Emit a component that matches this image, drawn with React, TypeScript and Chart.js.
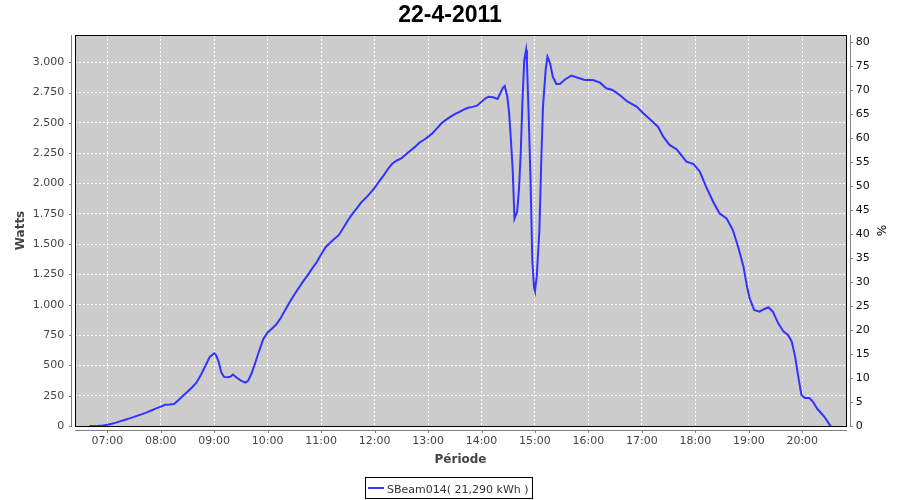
import React, { useEffect, useRef } from "react";
import { Chart, registerables } from "chart.js";

Chart.register(...registerables);

const TITLE = "22-4-2011";
const SERIES_LABEL = "SBeam014( 21,290 kWh )";
const Y_LABEL = "Watts";
const Y2_LABEL = "%";
const X_LABEL = "Période";

// time of day (HH:MM)
const times = [
  "06:40", "06:45", "06:50", "06:55", "07:00", "07:05", "07:10", "07:15", "07:20", "07:25",
  "07:30", "07:35", "07:40", "07:45", "07:50", "07:55", "08:00", "08:05", "08:10", "08:15",
  "08:20", "08:25", "08:30", "08:35", "08:40", "08:45", "08:50", "08:55", "09:00", "09:02",
  "09:05", "09:08", "09:11", "09:15", "09:18", "09:21", "09:25", "09:30", "09:35", "09:38",
  "09:42", "09:46", "09:50", "09:55", "10:00", "10:05", "10:10", "10:15", "10:20", "10:25",
  "10:30", "10:35", "10:40", "10:45", "10:50", "10:55", "11:00", "11:05", "11:10", "11:15",
  "11:20", "11:25", "11:30", "11:35", "11:40", "11:45", "11:50", "11:55", "12:00", "12:05",
  "12:10", "12:15", "12:20", "12:25", "12:30", "12:35", "12:40", "12:45", "12:50", "12:55",
  "13:00", "13:05", "13:10", "13:15", "13:20", "13:25", "13:30", "13:35", "13:40", "13:45",
  "13:50", "13:55", "14:00", "14:05", "14:08", "14:13", "14:18", "14:21", "14:24", "14:26",
  "14:29", "14:31", "14:33", "14:35", "14:37", "14:40", "14:42", "14:44", "14:46", "14:48",
  "14:50", "14:51", "14:53", "14:55", "14:57", "14:59", "15:00", "15:02", "15:05", "15:07",
  "15:09", "15:12", "15:14", "15:17", "15:20", "15:24", "15:28", "15:34", "15:41", "15:48",
  "15:56", "16:05", "16:13", "16:20", "16:27", "16:35", "16:44", "16:54", "17:01", "17:09",
  "17:18", "17:24", "17:31", "17:39", "17:50", "17:58", "18:05", "18:12", "18:20", "18:27",
  "18:35", "18:42", "18:48", "18:54", "18:58", "19:01", "19:06", "19:12", "19:17", "19:22",
  "19:27", "19:33", "19:39", "19:44", "19:48", "19:52", "19:55", "19:59", "20:03", "20:08",
  "20:12", "20:17", "20:23", "20:26", "20:31", "20:32",
];

// power in watts
const watts = [
  0, 0, 2, 5, 11, 18, 28, 40, 52, 63,
  75, 88, 100, 115, 130, 145, 160, 175, 178, 182,
  215, 250, 283, 318, 357, 420, 495, 570, 600, 585,
  530, 440, 405, 403, 406, 424, 400, 375, 358, 372,
  435, 520, 610, 715, 772, 805, 840, 895, 960, 1025,
  1085, 1140, 1195, 1245, 1300, 1350, 1415, 1475, 1512, 1545,
  1576, 1635, 1695, 1750, 1795, 1845, 1880, 1920, 1965, 2015,
  2065, 2120, 2165, 2190, 2208, 2240, 2270, 2300, 2335, 2359,
  2385, 2415, 2455, 2497, 2525, 2550, 2572, 2590, 2610, 2625,
  2632, 2642, 2675, 2705, 2716, 2711, 2697, 2744, 2790, 2805,
  2716, 2580, 2359, 2112, 1710, 1768, 1947, 2250, 2689, 3019,
  3102, 2992, 2551, 2029, 1369, 1140, 1116, 1232, 1617, 2167,
  2634, 2937, 3046, 2992, 2881, 2821, 2821, 2860, 2890, 2873,
  2854, 2854, 2832, 2786, 2772, 2730, 2675, 2634, 2584, 2530,
  2469, 2386, 2318, 2282, 2180, 2161, 2098, 1974, 1850, 1754,
  1713, 1617, 1479, 1314, 1149, 1053, 957, 943, 963, 979,
  943, 847, 778, 751, 700, 572, 430, 256, 230, 230,
  200, 140, 91, 63, 8, 0,
];

// tick values
const hourTicks = [7, 8, 9, 10, 11, 12, 13, 14, 15, 16, 17, 18, 19, 20];
const wattTicks = [0, 250, 500, 750, 1000, 1250, 1500, 1750, 2000, 2250, 2500, 2750, 3000];
const percentTicks = [0, 5, 10, 15, 20, 25, 30, 35, 40, 45, 50, 55, 60, 65, 70, 75, 80];

// axis bounds
const X_MIN = 6.396; // hours
const X_MAX = 20.818;
const Y_MAX = 3225;
const Y2_MAX = 81.4;

const toHours = (t: string) => {
  const [h, m] = t.split(":").map(Number);
  return h + m / 60;
};
const thousands = (v: number) =>
  String(Math.round(v)).replace(/\B(?=(\d{3})+(?!\d))/g, ".");
const hhmm = (v: number) => String(Math.round(v)).padStart(2, "0") + ":00";
const fixedTicks = (vals: number[]) => (s: any) => {
  s.ticks = vals.map((value) => ({ value }));
};

const TICK_FONT = { family: "DejaVu Sans", size: 11 };
const AXIS_GRAY = "#808080";

const jfreeFrame = {
  id: "jfreeFrame",
  beforeDraw(chart: any) {
    const { ctx, chartArea: a } = chart;
    ctx.save();
    ctx.fillStyle = "#ffffff";
    ctx.fillRect(0, 0, chart.width, chart.height);
    ctx.fillStyle = "#cccccc";
    ctx.fillRect(a.left, a.top, a.right - a.left, a.bottom - a.top);
    ctx.restore();
  },
  afterDatasetsDraw(chart: any) {
    const { ctx, chartArea: a, scales } = chart;
    const L = Math.round(a.left), R = Math.round(a.right);
    const T = Math.round(a.top), B = Math.round(a.bottom);
    ctx.save();
    ctx.strokeStyle = "#000";
    ctx.lineWidth = 1;
    ctx.strokeRect(L + 0.5, T + 0.5, R - L, B - T);
    ctx.strokeStyle = AXIS_GRAY;
    ctx.beginPath();
    ctx.moveTo(L - 3.5, T);
    ctx.lineTo(L - 3.5, B + 1);
    ctx.moveTo(R + 4.5, T);
    ctx.lineTo(R + 4.5, B + 1);
    ctx.moveTo(L, B + 4.5);
    ctx.lineTo(R + 1, B + 4.5);
    for (const t of scales.y.ticks) {
      const y = Math.round(scales.y.getPixelForValue(t.value)) + 0.5;
      ctx.moveTo(L - 6, y);
      ctx.lineTo(L - 3.5, y);
    }
    for (const t of scales.y2.ticks) {
      const y = Math.round(scales.y2.getPixelForValue(t.value)) + 0.5;
      ctx.moveTo(R + 4.5, y);
      ctx.lineTo(R + 7, y);
    }
    for (const t of scales.x.ticks) {
      const x = Math.round(scales.x.getPixelForValue(t.value)) + 0.5;
      ctx.moveTo(x, B + 4.5);
      ctx.lineTo(x, B + 7);
    }
    ctx.stroke();
    ctx.restore();
  },
  afterDraw(chart: any) {
    const { ctx } = chart;
    const ds = chart.data.datasets[0];
    ctx.save();
    ctx.font = "11px 'DejaVu Sans'";
    const tw = ctx.measureText(ds.label).width;
    const left = 365;
    const textX = left + 22;
    const right = textX + tw + 3;
    ctx.strokeStyle = "#000";
    ctx.lineWidth = 1;
    ctx.strokeRect(left + 0.5, 477.5, Math.round(right - left), 21);
    ctx.strokeStyle = ds.borderColor;
    ctx.lineWidth = 2;
    ctx.beginPath();
    ctx.moveTo(left + 3, 488);
    ctx.lineTo(left + 19, 488);
    ctx.stroke();
    ctx.fillStyle = "#333";
    ctx.textBaseline = "alphabetic";
    ctx.textAlign = "left";
    ctx.fillText(ds.label, textX, 493);
    ctx.restore();
  },
};

export default function App() {
  const ref = useRef<HTMLCanvasElement | null>(null);

  useEffect(() => {
    if (!ref.current) return;
    const chart = new Chart(ref.current, {
      type: "line",
      data: {
        datasets: [
          {
            label: SERIES_LABEL,
            data: times.map((t, i) => ({ x: toHours(t), y: watts[i] })),
            borderColor: "#3333ff",
            backgroundColor: "#3333ff",
            borderWidth: 2,
            pointRadius: 0,
            tension: 0,
            fill: false,
            xAxisID: "x",
            yAxisID: "y",
          },
        ],
      },
      options: {
        responsive: false,
        animation: false,
        layout: { padding: { left: 0, right: 0, top: 0, bottom: 26 } },
        plugins: {
          legend: { display: false },
          tooltip: { enabled: false },
          title: {
            display: true,
            text: TITLE,
            color: "#000",
            font: { family: "Liberation Sans", size: 23, weight: "bold" },
            padding: { top: 2, bottom: 5.4 },
          },
        },
        scales: {
          x: {
            type: "linear",
            position: "bottom",
            min: X_MIN,
            max: X_MAX,
            afterBuildTicks: fixedTicks(hourTicks),
            afterFit: (s: any) => {
              s.height = 48;
            },
            grid: {
              color: "#ffffff",
              lineWidth: 1,
              drawTicks: true,
              tickLength: 6,
              tickColor: "rgba(0,0,0,0)",
            },
            border: { display: false, dash: [2, 2] },
            ticks: {
              autoSkip: false,
              maxRotation: 0,
              padding: 3,
              color: "#444",
              font: TICK_FONT,
              callback: (v: any) => hhmm(Number(v)),
            },
            title: {
              display: true,
              text: X_LABEL,
              color: "#444",
              font: { family: "DejaVu Sans", size: 12, weight: "bold" },
              padding: { top: 0, bottom: 7.3 },
            },
          },
          y: {
            type: "linear",
            position: "left",
            min: 0,
            max: Y_MAX,
            afterBuildTicks: fixedTicks(wattTicks),
            afterFit: (s: any) => {
              s.width = 75;
            },
            grid: {
              color: "#ffffff",
              lineWidth: 1,
              drawTicks: true,
              tickLength: 7,
              tickColor: "rgba(0,0,0,0)",
            },
            border: { display: false, dash: [2, 2] },
            ticks: {
              autoSkip: false,
              padding: 3.7,
              color: "#444",
              font: TICK_FONT,
              callback: (v: any) => thousands(Number(v)),
            },
            title: {
              display: true,
              text: Y_LABEL,
              color: "#444",
              font: { family: "DejaVu Sans", size: 12, weight: "bold" },
              padding: { top: 13.8, bottom: 0 },
            },
          },
          y2: {
            type: "linear",
            position: "right",
            min: 0,
            max: Y2_MAX,
            afterBuildTicks: fixedTicks(percentTicks),
            afterFit: (s: any) => {
              s.width = 54;
            },
            grid: {
              drawOnChartArea: false,
              drawTicks: true,
              tickLength: 6,
              tickColor: "rgba(0,0,0,0)",
            },
            border: { display: false },
            ticks: {
              autoSkip: false,
              padding: 3.7,
              color: "#111",
              font: TICK_FONT,
              callback: (v: any) => String(v),
            },
            title: {
              display: true,
              text: Y2_LABEL,
              color: "#000",
              font: { family: "DejaVu Sans", size: 12 },
              padding: { top: 12.8, bottom: 0 },
            },
          },
        },
      } as any,
      plugins: [jfreeFrame],
    });
    return () => chart.destroy();
  }, []);

  return (
    <div style={{ position: "absolute", left: 0, top: 0, width: 900, height: 500 }}>
      <canvas ref={ref} width={900} height={500} style={{ display: "block" }} />
    </div>
  );
}
